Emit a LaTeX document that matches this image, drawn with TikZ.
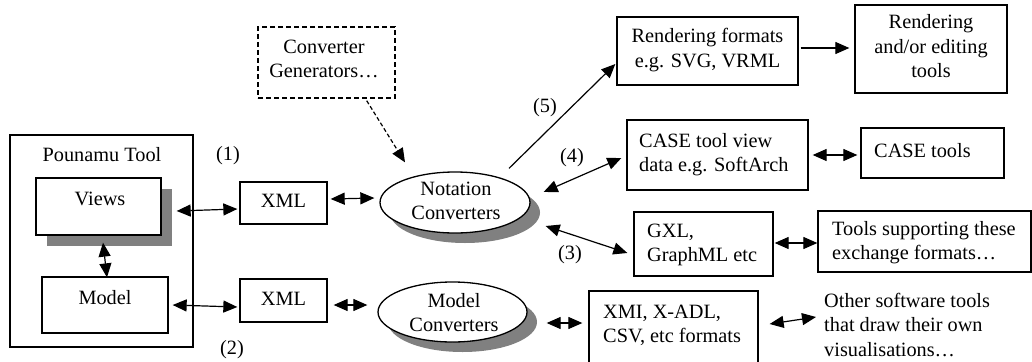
\documentclass[tikz,border=0pt]{standalone}
\usepackage{fontspec}
\setmainfont{Liberation Serif}
\usetikzlibrary{arrows.meta,shapes.geometric,shadows}

\definecolor{shadowgray}{RGB}{128,128,128}

% multi-line text blocks whose baseline is the first line
\newcommand{\linesL}[1]{\begin{tabular}[t]{@{}l@{}}#1\end{tabular}}
\newcommand{\linesC}[1]{\begin{tabular}[t]{@{}c@{}}#1\end{tabular}}

\tikzset{
  box/.style={draw, line width=1.3pt, rectangle, inner sep=0pt, fill=white},
  oval/.style={draw, line width=1.3pt, ellipse, inner sep=0pt, fill=white,
    drop shadow={shadow xshift=10pt, shadow yshift=-10pt, fill=shadowgray, opacity=1}},
  shadowed/.style={drop shadow={shadow xshift=10.5pt, shadow yshift=-10.5pt, fill=shadowgray, opacity=1}},
  txt/.style={inner sep=0pt, anchor=base},
  txtL/.style={inner sep=0pt, anchor=base west},
  tip/.style={line width=1.2pt, -{Triangle[length=14pt,width=12pt]}},
  dbl/.style={line width=1.2pt, {Triangle[length=14pt,width=12pt]}-{Triangle[length=14pt,width=12pt]}},
}

\begin{document}
\begin{tikzpicture}[x=1pt, y=-1pt, font=\fontsize{20.3}{24.5}\selectfont]
\clip (0,0) rectangle (1032,361);
\fill[white] (0,0) rectangle (1032,361);

% Pounamu tool with its views and model
\node[box, minimum width=183pt, minimum height=212pt] (pounamu) at (101.5,241) {};
\node[txt] (pounamuT) at (102,161) {Pounamu Tool};
\node[box, shadowed, minimum width=125pt, minimum height=57pt] (views) at (98.5,206.5) {};
\node[txt] (viewsT) at (100,205) {Views};
\node[box, minimum width=126pt, minimum height=56pt] (model) at (105,305) {};
\node[txt] (modelT) at (105,304) {Model};

% XML exchange
\node[box, minimum width=87pt, minimum height=42pt] (xml1) at (283.5,203) {};
\node[txt] (xml1T) at (283.5,207) {XML};
\node[box, minimum width=87pt, minimum height=43pt] (xml2) at (283.5,300.5) {};
\node[txt] (xml2T) at (283.5,305) {XML};
\node[txt] (l1) at (228,160) {(1)};
\node[txt] (l2) at (232,354) {(2)};

% converters
\node[box, dash pattern=on 5pt off 3pt, line width=1.4pt, minimum width=137pt, minimum height=71pt] (convgen) at (326.5,62.5) {};
\node[txt] (convgenT) at (324,53) {\linesC{Converter\\Generators\ldots}};
\node[oval, minimum width=150pt, minimum height=61pt] (notation) at (455,202.5) {};
\node[txt] (notationT) at (456,195) {\linesC{Notation\\Converters}};
\node[oval, minimum width=149pt, minimum height=60pt] (modelconv) at (452.5,312) {};
\node[txt] (modelconvT) at (454,307) {\linesC{Model\\Converters}};

% target formats and tools
\node[box, minimum width=181pt, minimum height=68pt] (rendfmt) at (707.5,51) {};
\node[txt] (rendfmtT) at (707.5,43) {\linesC{Rendering formats\\e.g. SVG, VRML}};
\node[box, minimum width=152pt, minimum height=88pt] (rendtools) at (931,49) {};
\node[txt] (rendtoolsT) at (931,29) {\linesC{Rendering\\and/or editing\\tools}};

\node[box, minimum width=181pt, minimum height=70pt] (caseview) at (717.5,155) {};
\node[txtL] (caseviewT) at (639,147) {\linesL{CASE tool view\\data e.g. SoftArch}};
\node[box, minimum width=143pt, minimum height=50pt] (casetools) at (932.5,153) {};
\node[txtL] (casetoolsT) at (874,157) {CASE tools};

\node[box, minimum width=139pt, minimum height=64pt] (gxl) at (703.5,244) {};
\node[txtL] (gxlT) at (647,237) {\linesL{GXL,\\GraphML etc}};
\node[box, minimum width=213pt, minimum height=61pt] (toolsup) at (924.5,241.5) {};
\node[txtL] (toolsupT) at (832,235) {\linesL{Tools supporting these\\exchange formats\ldots}};

\node[box, minimum width=169pt, minimum height=74pt] (xmi) at (673.5,328) {};
\node[txtL] (xmiT) at (603,318) {\linesL{XMI, X-ADL,\\CSV, etc formats}};
\node[txtL] (other) at (824,307) {\linesL{Other software tools\\that draw their own\\visualisations\ldots}};

\node[txt] (l3) at (570,259) {(3)};
\node[txt] (l4) at (572,162) {(4)};
\node[txt] (l5) at (545,112) {(5)};

% connectors
\draw[dbl] ([shift={(15,4.5)}]views.east) -- ([shift={(-2,6)}]xml1.west);
\draw[dbl] ([shift={(4.5,7)}]views.south) -- ([shift={(2,1)}]model.north);
\draw[dbl] ([shift={(4,0)}]model.east) -- ([shift={(-2,6.5)}]xml2.west);
\draw[dbl] ([shift={(3,-4)}]xml1.east) -- ([shift={(-5,-4.5)}]notation.west);
\draw[dbl] ([shift={(6,4.5)}]xml2.east) -- ([shift={(-10,-7)}]modelconv.west);
\draw[tip, dash pattern=on 4pt off 2.5pt] ([shift={(-29,2)}]convgen.south east) -- ([shift={(-50,-9)}]notation.north);
\draw[tip] ([shift={(54,-3)}]notation.north) -- ([shift={(-1,13)}]rendfmt.west);
\draw[tip] ([shift={(2,-3)}]rendfmt.east) -- ([shift={(-5,-1)}]rendtools.west);
\draw[dbl] ([shift={(13,-10.5)}]notation.east) -- ([shift={(-5,3)}]caseview.west);
\draw[dbl] ([shift={(4,0)}]caseview.east) -- ([shift={(-3,2)}]casetools.west);
\draw[dbl] ([shift={(15,23.5)}]notation.east) -- ([shift={(-6,9)}]gxl.west);
\draw[dbl] ([shift={(1,-1)}]gxl.east) -- ([shift={(0,1.5)}]toolsup.west);
\draw[dbl] ([shift={(19,11)}]modelconv.east) -- ([shift={(-6,-5)}]xmi.west);
\draw[dbl] ([shift={(11,-4)}]xmi.east) -- ([shift={(-8,10)}]other.base west);
\end{tikzpicture}
\end{document}
